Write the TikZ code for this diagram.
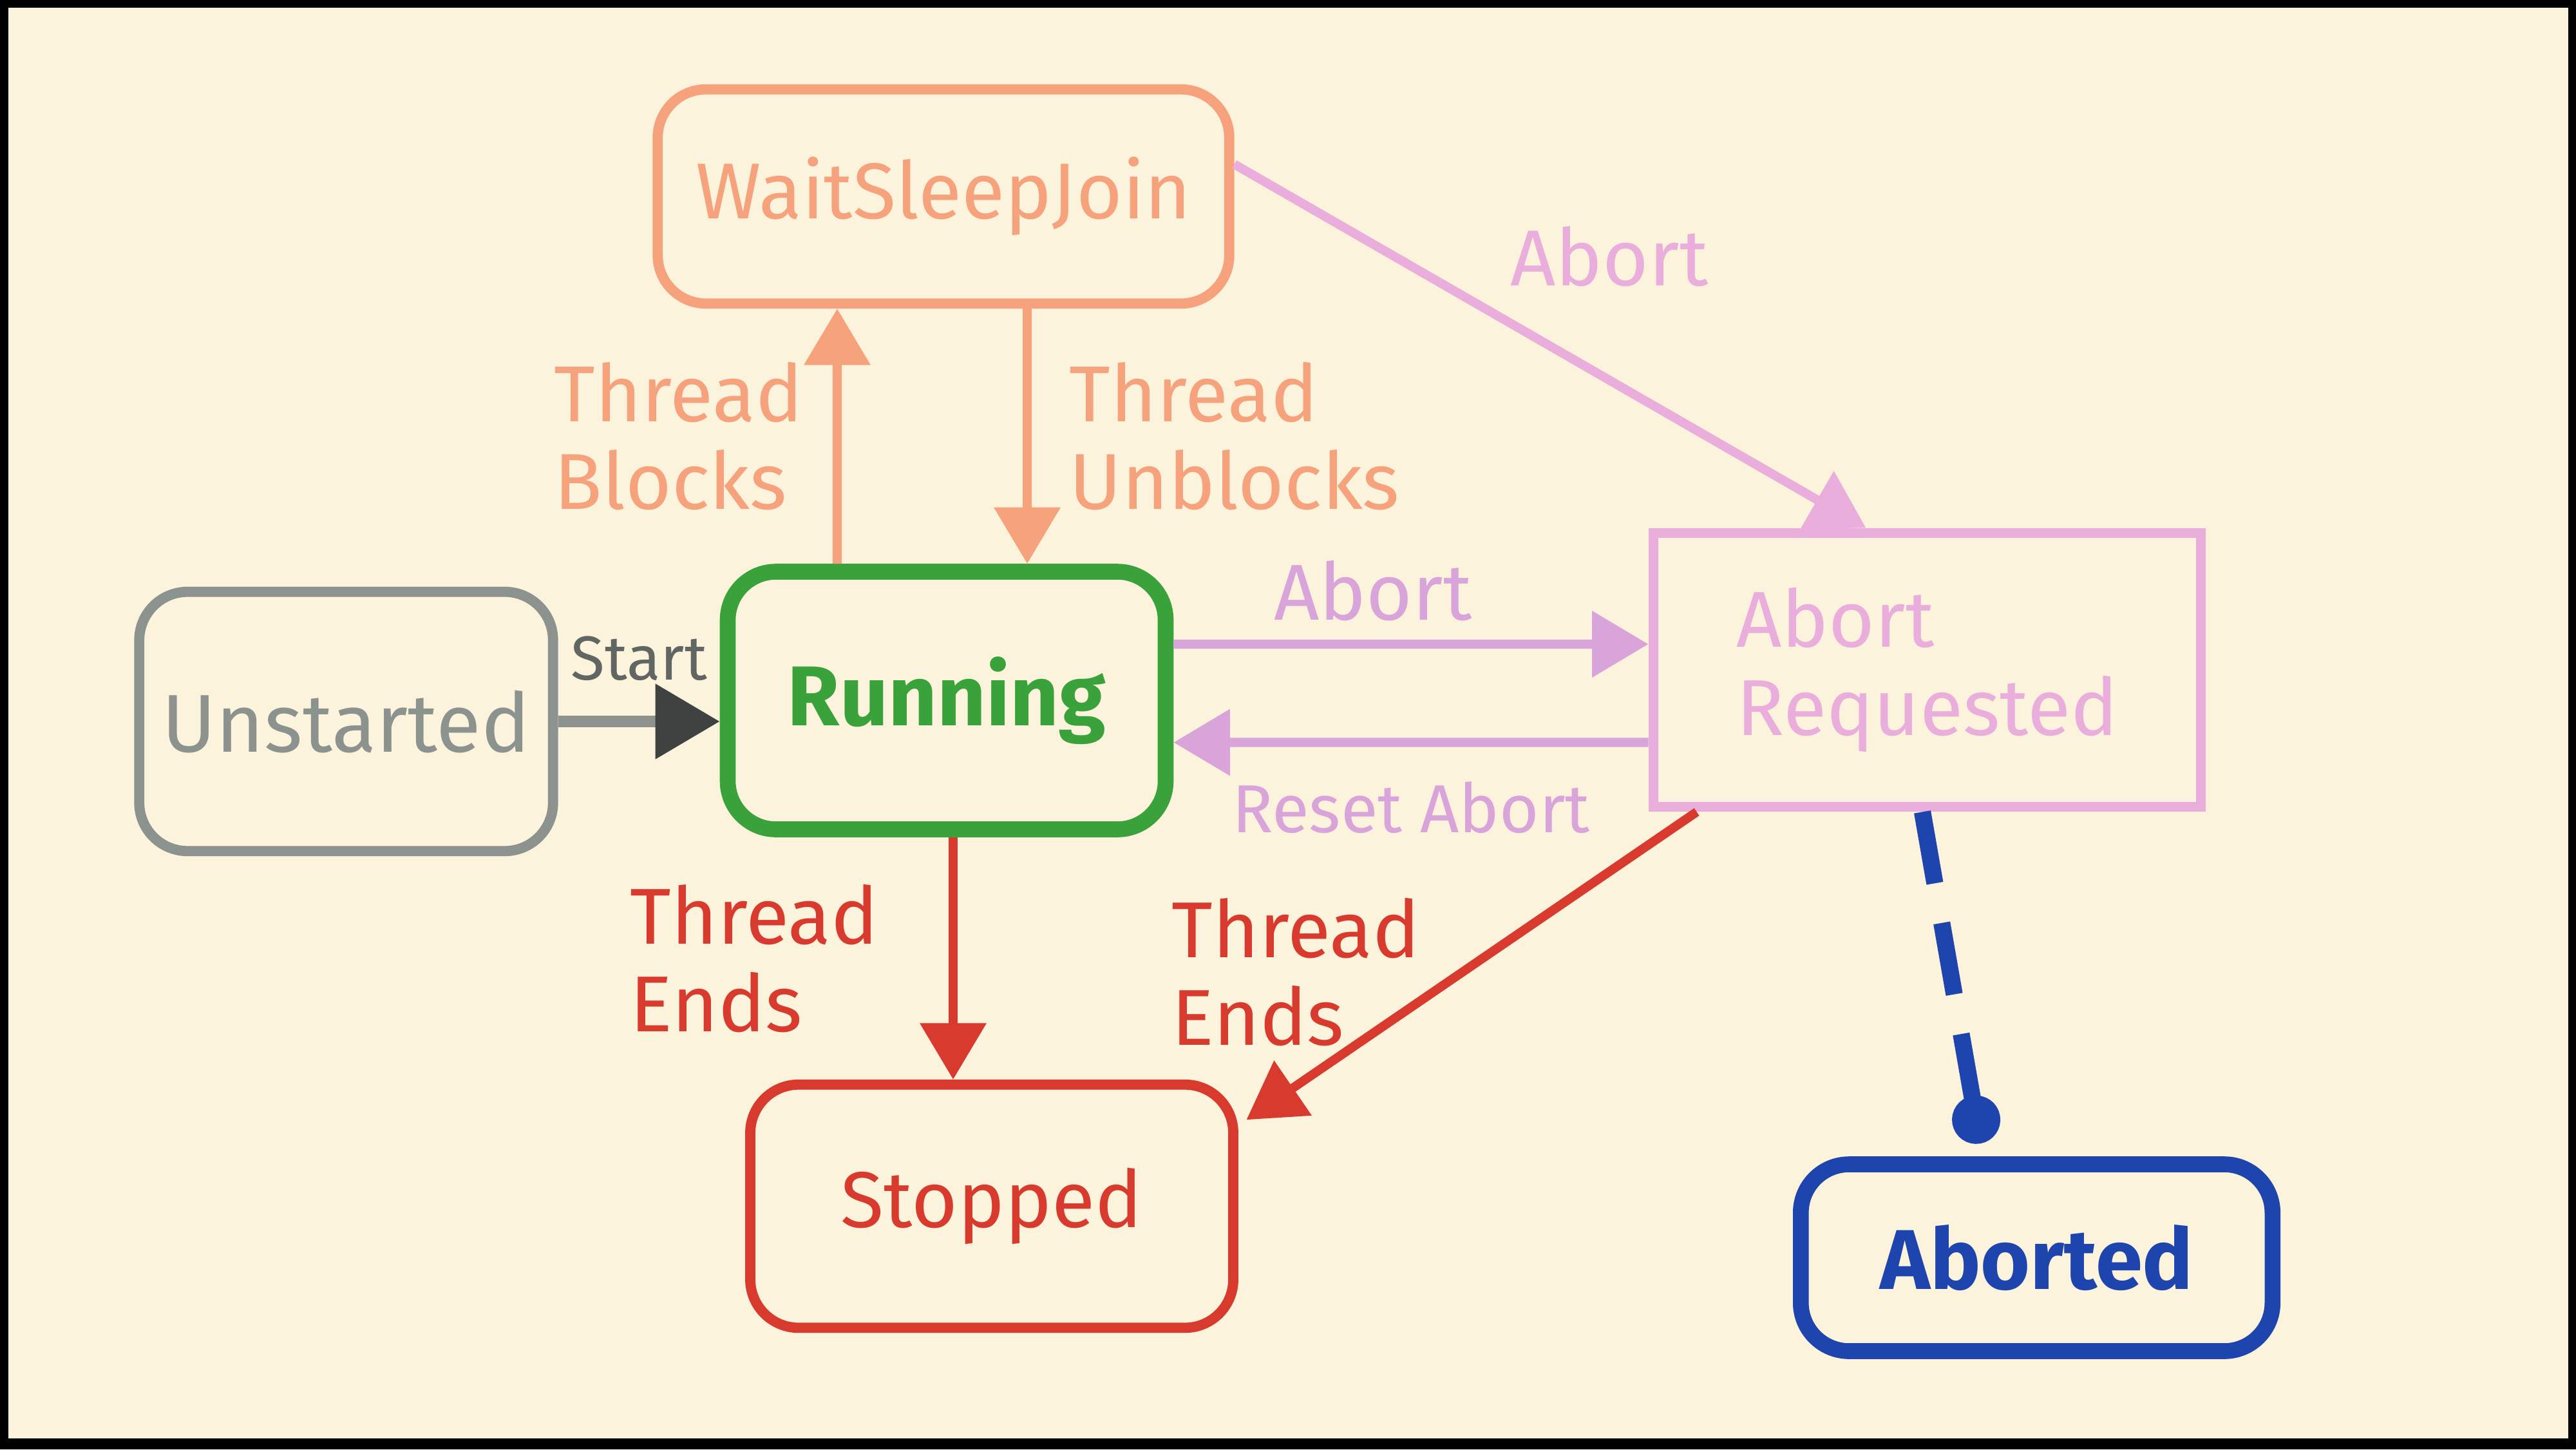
\documentclass[tikz,border=0pt]{standalone}
\usepackage{fontspec}
\setmainfont{Fira Sans}
\usetikzlibrary{arrows.meta,calc}
\definecolor{paper}{HTML}{FCF3DC}
\definecolor{orng}{HTML}{F6A27C}
\definecolor{pnk}{HTML}{E9AEDC}
\definecolor{lav}{HTML}{D8A4DA}
\definecolor{grn}{HTML}{3AA23A}
\definecolor{gry}{HTML}{8C928E}
\definecolor{rd}{HTML}{D93A2E}
\definecolor{blu}{HTML}{1E44AE}
\tikzset{>={Triangle[length=3.5mm,width=4mm]},every node/.style={font=\fontsize{14}{15.5}\selectfont},
state/.style={draw,line width=1.8pt,rounded corners=3mm,align=center},
flow/.style={line width=1.6pt,->},lbl/.style={align=left,inner sep=1pt}}
\begin{document}
\begin{tikzpicture}
\fill[black] (0,0) rectangle (16,9);\fill[paper] (.05,.07) rectangle (15.95,8.95);
% states
\node[state,orng,minimum width=3.55cm,minimum height=1.33cm] (wsj) at (5.86,7.78) {WaitSleepJoin};
\node[state,gry,minimum width=2.57cm,minimum height=1.61cm,font=\fontsize{14.5}{16}\selectfont] (unst) at (2.15,4.52) {Unstarted};
\node[state,grn,line width=2.8pt,minimum width=2.72cm,minimum height=1.6cm,font=\fontsize{15}{16}\selectfont\bfseries] (run) at (5.88,4.65) {Running};
\node[state,pnk,rounded corners=0pt,minimum width=3.4cm,minimum height=1.7cm,align=left] (areq) at (11.97,4.84) {Abort\\Requested};
\node[state,rd,minimum width=3cm,minimum height=1.51cm] (stop) at (6.16,1.51) {Stopped};
\node[state,blu,line width=2.8pt,minimum width=2.93cm,minimum height=1.16cm,font=\fontsize{15}{16}\selectfont\bfseries] (abt) at (12.65,1.19) {Aborted};
% transitions
\draw[gry,line width=2pt,-{Triangle[length=4mm,width=4.5mm,color=gry!45!black]}] (unst.east) -- (run.west |- unst.east) node[midway,above=1mm,font=\fontsize{11}{12}\selectfont,text=gry!70!black]{Start};
\draw[flow,orng] ([xshift=-6.8mm]run.north) -- ([xshift=-6.6mm]wsj.south) node[midway,left=1.5mm,lbl,text=orng]{Thread\\Blocks};
\draw[flow,orng] ([xshift=5.2mm]wsj.south) -- ([xshift=5mm]run.north) node[midway,right=2mm,lbl,text=orng]{Thread\\Unblocks};
\draw[flow,pnk] ([yshift=2mm]wsj.east) -- ([xshift=-3.8mm]areq.north) node[pos=.4,above right,text=pnk]{Abort};
\draw[flow,lav] ([yshift=3.5mm]run.east) -- ([yshift=1.6mm]areq.west) node[pos=.42,above,text=lav]{Abort};
\draw[flow,lav] ([yshift=-4.5mm]areq.west) -- ([yshift=-2.6mm]run.east) node[midway,below=1mm,text=lav,font=\fontsize{12}{13}\selectfont]{Reset Abort};
\draw[flow,rd] ([xshift=-2.4mm]stop.north |- run.south) -- ([xshift=-2.4mm]stop.north) node[midway,left=4mm,lbl,text=rd]{Thread\\Ends};
\draw[flow,rd] ([xshift=3mm]areq.south west) -- ([xshift=.5mm,yshift=-2.5mm]stop.north east) node[pos=.52,left=2mm,lbl,text=rd]{Thread\\Ends};
\draw[blu,line width=3pt,dash pattern=on 4.5mm off 2.5mm,-{Circle[length=3mm]}] ([xshift=-.3mm]areq.south) -- ([xshift=-3.5mm,yshift=.8mm]abt.north);
\end{tikzpicture}
\end{document}
